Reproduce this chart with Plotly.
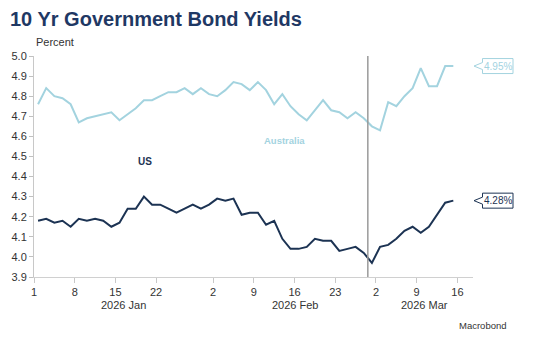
import pandas as pd
import plotly.graph_objects as go

# ---- data ----
dates = pd.bdate_range("2026-01-01", "2026-03-13")  # business days
australia = [4.76, 4.84, 4.80, 4.79, 4.76, 4.67, 4.69, 4.70, 4.71, 4.72,
             4.68, 4.71, 4.74, 4.78, 4.78, 4.80, 4.82, 4.82, 4.84, 4.81,
             4.84, 4.81, 4.80, 4.83, 4.87, 4.86, 4.83, 4.87, 4.83, 4.76,
             4.81, 4.75, 4.71, 4.68, 4.73, 4.78, 4.73, 4.72, 4.69, 4.72,
             4.69, 4.65, 4.63, 4.77, 4.75, 4.80, 4.84, 4.94, 4.85, 4.85,
             4.95, 4.95]
us = [4.18, 4.19, 4.17, 4.18, 4.15, 4.19, 4.18, 4.19, 4.18, 4.15,
      4.17, 4.24, 4.24, 4.30, 4.26, 4.26, 4.24, 4.22, 4.24, 4.26,
      4.24, 4.26, 4.29, 4.28, 4.29, 4.21, 4.22, 4.22, 4.16, 4.18,
      4.09, 4.04, 4.04, 4.05, 4.09, 4.08, 4.08, 4.03, 4.04, 4.05,
      4.02, 3.97, 4.05, 4.06, 4.09, 4.13, 4.15, 4.12, 4.15, 4.21,
      4.27, 4.28]
tick_dates = ["2026-01-01", "2026-01-08", "2026-01-15", "2026-01-22",
              "2026-02-02", "2026-02-09", "2026-02-16", "2026-02-23",
              "2026-03-02", "2026-03-09", "2026-03-16"]
tick_text = ["1", "8", "15", "22", "2", "9", "16", "23", "2", "9", "16"]
month_labels = ["2026 Jan", "2026 Feb", "2026 Mar"]
month_pos = ["2026-01-16 00:00", "2026-02-16 00:00", "2026-03-09 23:00"]
event_date = "2026-02-27"

AU_COL = "#a3d3df"
US_COL = "#1c3353"
TXT = "#333333"
FONT = "Liberation Sans, Arial, sans-serif"

x_mid = dates + pd.Timedelta(hours=12)

fig = go.Figure()
fig.add_trace(go.Scatter(x=x_mid, y=australia, mode="lines", name="Australia",
                         line=dict(color=AU_COL, width=2)))
fig.add_trace(go.Scatter(x=x_mid, y=us, mode="lines", name="US",
                         line=dict(color=US_COL, width=2)))

fig.update_layout(
    width=536, height=341, autosize=False,
    margin=dict(l=34, r=63, t=56, b=64),
    paper_bgcolor="white", plot_bgcolor="white",
    showlegend=False,
    font=dict(family=FONT, size=11, color=TXT),
    title=dict(text="<b>10 Yr Government Bond Yields</b>",
               x=10/536, xanchor="left", xref="container",
               y=1-19/341, yanchor="middle", yref="container",
               font=dict(family=FONT, size=20, color="#1f3864")),
)

fig.update_xaxes(
    type="date",
    rangebreaks=[dict(bounds=["sat", "mon"])],
    range=["2026-01-01 00:00", "2026-03-17 22:00"],
    tickvals=tick_dates, ticktext=tick_text,
    ticks="outside", ticklen=5, tickcolor="#c8c8c8",
    showline=True, linecolor="#d0d0d0", linewidth=1,
    showgrid=False, zeroline=False,
    tickfont=dict(size=11, color=TXT),
)
fig.update_yaxes(
    range=[3.9, 5.0],
    tickvals=[3.9 + 0.1*i for i in range(12)],
    ticktext=[f"{3.9 + 0.1*i:.1f}" for i in range(12)],
    ticks="outside", ticklen=4, tickcolor="#c0c0c0",
    showline=True, linecolor="#c8c8c8", linewidth=1,
    showgrid=False, zeroline=False,
    tickfont=dict(size=11, color=TXT),
)

# vertical event line
fig.add_shape(type="line", xref="x", yref="paper", x0=event_date, x1=event_date,
              y0=0, y1=1, line=dict(color="#9a9a9a", width=1.5))

# month labels
for lab, pos in zip(month_labels, month_pos):
    fig.add_annotation(x=pos, xref="x", y=0, yref="paper", yshift=-28,
                       text=lab, showarrow=False, xanchor="center", yanchor="middle",
                       font=dict(size=11, color=TXT))

# axis unit
fig.add_annotation(x=0, xref="paper", y=1, yref="paper", yshift=14,
                   text="Percent", showarrow=False, xanchor="left", yanchor="middle",
                   font=dict(size=11, color=TXT))

# source
fig.add_annotation(x=1, xref="paper", xshift=36, y=0, yref="paper", yshift=-48,
                   text="Macrobond", showarrow=False, xanchor="right", yanchor="middle",
                   font=dict(size=9.5, color=TXT))

# series labels
fig.add_annotation(x="2026-02-12 17:00", xref="x", y=4.58, yref="y",
                   text="<b>Australia</b>", showarrow=False,
                   font=dict(size=9.5, color=AU_COL))
fig.add_annotation(x="2026-01-20 14:00", xref="x", y=4.475, yref="y",
                   text="<b>US</b>", showarrow=False,
                   font=dict(size=10, color=US_COL))

# last value callouts
callout = "M 9.5,7.5 L 40,7.5 L 40,-7.5 L 9.5,-7.5 L 9.5,-3.5 L 1,0 L 9.5,3.5 Z"
for vals, col in ((australia, AU_COL), (us, US_COL)):
    last = vals[-1]
    fig.add_shape(type="path", xref="paper", xsizemode="pixel", xanchor=1,
                  yref="y", ysizemode="pixel", yanchor=last,
                  path=callout, fillcolor="white",
                  line=dict(color=col, width=1))
    fig.add_annotation(x=1, xref="paper", xshift=25, y=last, yref="y",
                       text=f"{last:.2f}%", showarrow=False,
                       xanchor="center", yanchor="middle",
                       font=dict(size=10, color=col))

fig.write_html("out.html")
